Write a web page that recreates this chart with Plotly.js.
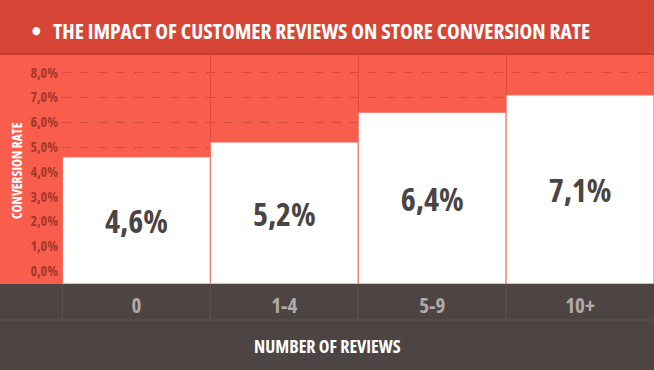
<!DOCTYPE html>
<html>
<head>
<meta charset="utf-8">
<script src="https://cdn.plot.ly/plotly-3.0.1.min.js"></script>
<style>
html,body{margin:0;padding:0;background:#f95e4c;}
#chart{width:654px;height:370px;}
svg text{font-stretch:condensed !important;}
</style>
</head>
<body>
<div id="chart"></div>
<script>
const categories = ["0", "1-4", "5-9", "10+"];
const conversionRates = [4.6, 5.2, 6.4, 7.1];
const yTickValues = [0, 1, 2, 3, 4, 5, 6, 7, 8];
const yTickLabels = ["0,0%", "1,0%", "2,0%", "3,0%", "4,0%", "5,0%", "6,0%", "7,0%", "8,0%"];
const chartTitle = "THE IMPACT OF CUSTOMER REVIEWS ON STORE CONVERSION RATE";
const xTitle = "NUMBER OF REVIEWS";
const yTitle = "CONVERSION RATE";

const FONT = "'Open Sans', 'Roboto', sans-serif";
const BASE = -0.524;

const W = 654, H = 370, ML = 62, MT = 55, MB = 86;
const PW = W - ML, PH = H - MT - MB;
const px = v => (v - ML) / PW;          // pixel x -> paper x
const py = v => (H - MB - v) / PH;      // pixel y -> paper y

const trace = {
  type: 'bar',
  x: categories,
  y: conversionRates.map(v => v - BASE),
  base: BASE,
  customdata: conversionRates,
  texttemplate: '%{customdata:.1f}%',
  textposition: 'inside',
  insidetextanchor: 'middle',
  textangle: 0,
  textfont: {family: FONT, size: 32, color: '#4b4442', weight: 700},
  marker: {color: '#ffffff', line: {color: '#ee6b5c', width: 1}},
  hoverinfo: 'skip'
};

const shapes = [
  {type:'rect', xref:'paper', yref:'paper', x0:px(0), x1:1, y0:py(55), y1:py(0),
   fillcolor:'#d64536', line:{width:0}, layer:'below'},
  {type:'line', xref:'paper', yref:'paper', x0:px(0), x1:1, y0:py(54), y1:py(54),
   line:{color:'#c63f31', width:2}, layer:'below'},
  {type:'rect', xref:'paper', yref:'paper', x0:px(0), x1:1, y0:py(H), y1:py(284),
   fillcolor:'#4d4544', line:{width:0}, layer:'below'},
  {type:'line', xref:'paper', yref:'paper', x0:px(0), x1:1, y0:py(320), y1:py(320),
   line:{color:'#5c5351', width:1}, layer:'below'}
];
categories.forEach((c, i) => {
  shapes.push({type:'line', xref:'x', yref:'paper', x0:i - 0.5, x1:i - 0.5,
    y0:py(320), y1:py(284), line:{color:'#5c5351', width:1}});
});

const annotations = [
  {text:'●', xref:'paper', yref:'paper', x:px(36), y:py(30), xanchor:'center', yanchor:'middle',
   showarrow:false, font:{family:'DejaVu Sans', size:11, color:'#ffffff'}},
  {text:chartTitle, xref:'paper', yref:'paper', x:px(51), y:py(30), xanchor:'left', yanchor:'middle',
   showarrow:false, font:{family:FONT, size:21.5, color:'#ffffff', weight:700}},
  {text:xTitle, xref:'paper', yref:'paper', x:px(327), y:py(346), xanchor:'center', yanchor:'middle',
   showarrow:false, font:{family:FONT, size:18, color:'#ffffff', weight:700}},
  {text:yTitle, xref:'paper', yref:'paper', x:px(17), y:py(171), xanchor:'center', yanchor:'middle',
   textangle:-90, showarrow:false, font:{family:FONT, size:13.5, color:'#ffffff', weight:700}}
];

const layout = {
  width: W, height: H,
  margin: {l: ML, r: 0, t: MT, b: MB, pad: 0},
  paper_bgcolor: '#f95e4c',
  plot_bgcolor: '#f95e4c',
  separators: ',.',
  showlegend: false,
  bargap: 0,
  xaxis: {
    type: 'category',
    tickson: 'boundaries',
    showgrid: true, gridcolor: '#dc4d3d', gridwidth: 1,
    showline: false, zeroline: false, ticks: '',
    ticklabelstandoff: 7,
    tickfont: {family: FONT, size: 21, color: '#b3a9a6', weight: 700},
    fixedrange: true
  },
  yaxis: {
    range: [BASE, 8.71],
    tickvals: yTickValues,
    ticktext: yTickLabels,
    showgrid: true, gridcolor: '#d84a3a', gridwidth: 1, griddash: 'dash',
    zeroline: false, showline: false, ticks: '',
    ticklabelstandoff: 3,
    tickfont: {family: FONT, size: 14, color: '#a3382b', weight: 700},
    fixedrange: true
  },
  shapes: shapes,
  annotations: annotations
};

Plotly.newPlot('chart', [trace], layout, {staticPlot: true, displayModeBar: false});
</script>
</body>
</html>
